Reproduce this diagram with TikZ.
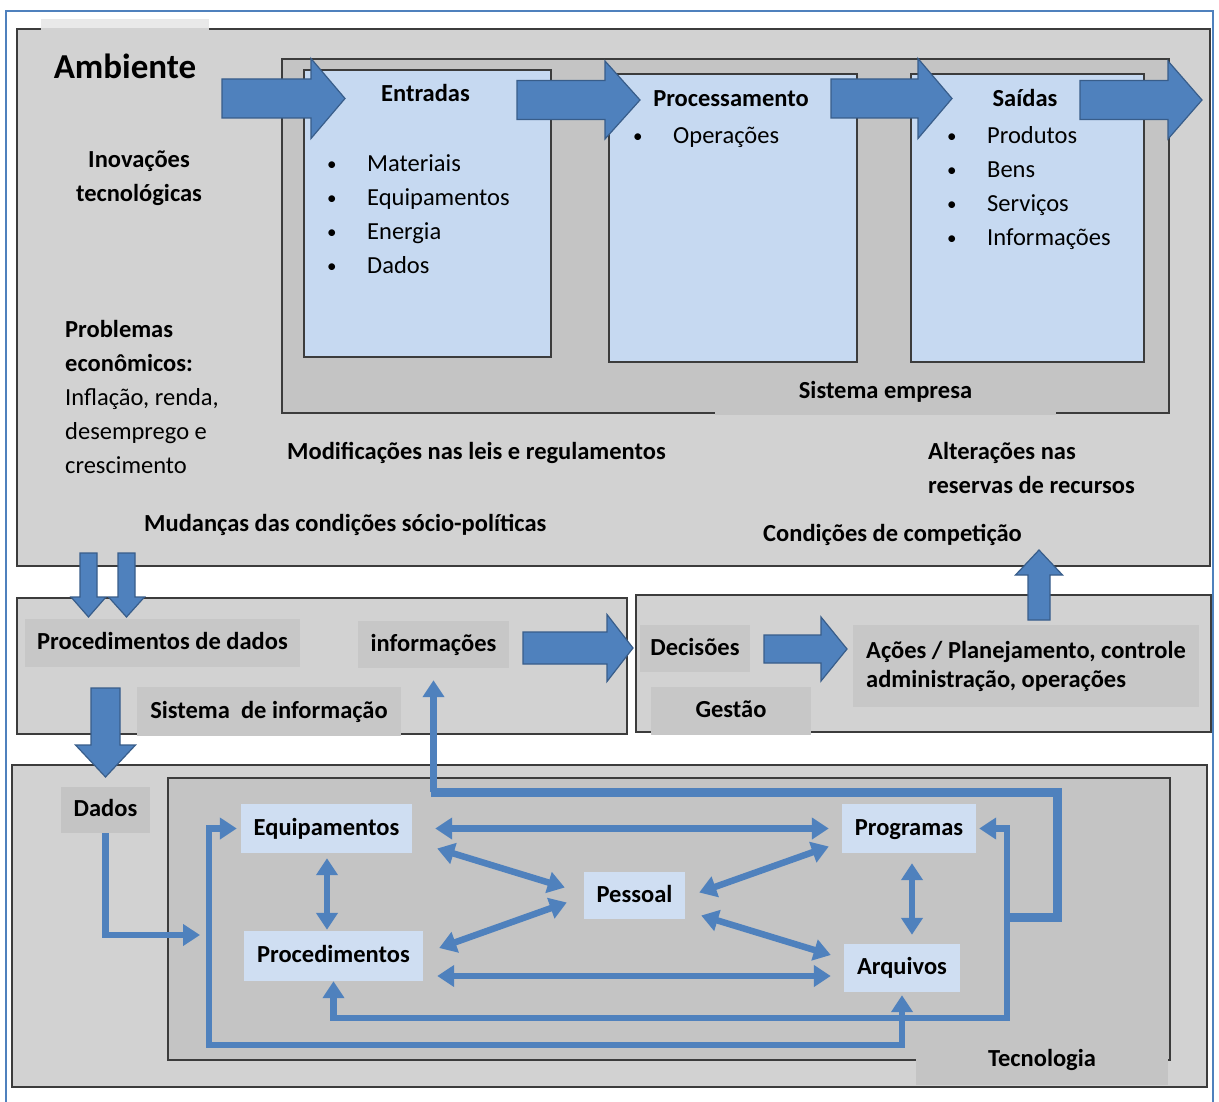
\documentclass[tikz,border=0pt]{standalone}
\usepackage{fontspec}
\setmainfont{Carlito}
\usetikzlibrary{arrows.meta,calc}
\definecolor{bl}{HTML}{4F81BD}
\definecolor{bld}{HTML}{385D8A}
\definecolor{gA}{HTML}{D2D2D2}
\definecolor{gAt}{HTML}{E9E9E9}
\definecolor{gB}{HTML}{C4C4C4}
\definecolor{gL}{HTML}{C7C7C7}
\definecolor{lb}{HTML}{C6D9F1}
\definecolor{lbb}{HTML}{CFDEF2}
\definecolor{bd}{HTML}{3C3C3C}
\newcommand\rblk[6]{\filldraw[blk] (#1,{#4-#5}) -- (#2,{#4-#5}) -- (#2,{#4-#6}) -- (#3,#4) -- (#2,{#4+#6}) -- (#2,{#4+#5}) -- (#1,{#4+#5}) -- cycle;}
\newcommand\vblk[6]{\filldraw[blk] ({#1-#5},#2) -- ({#1+#5},#2) -- ({#1+#5},#3) -- ({#1+#6},#3) -- (#1,#4) -- ({#1-#6},#3) -- ({#1-#5},#3) -- cycle;}
\newcommand\bul{\makebox[40pt][l]{\raisebox{1pt}{\fontsize{19}{34}\selectfont •}}}
\begin{document}
\begin{tikzpicture}[x=1pt,y=-1pt, >={Triangle[length=17pt,width=21pt]},
  box/.style={draw=bd, line width=1.3pt},
  blk/.style={fill=bl, draw=bld, line width=1.2pt, line join=miter},
  txt/.style={inner sep=0pt, font=\fontsize{24.5}{34}\selectfont},
  txtb/.style={inner sep=0pt, font=\fontsize{24.5}{34}\selectfont\bfseries},
  lbl/.style={txtb, text height=17pt, text depth=4pt},
  tnode/.style={lbl, fill=lbb},
  conn/.style={draw=bl, line width=6.5pt},
  ]
\clip (0,0) rectangle (1219,1102);
\fill[white] (0,0) rectangle (1219,1102);
\draw[bl, line width=2pt] (6,11) rectangle (1213,1120);

% ---------- Ambiente ----------
\fill[gAt] (41,19) rectangle (209,30);
\draw[box, fill=gA] (17,29) rectangle (1210,566);
\node[txtb, font=\fontsize{35}{40}\selectfont\bfseries, fill=gA, minimum width=168pt, minimum height=76pt] (amb) at (125,66) {Ambiente};

\draw[box, fill=gB] (282,59) rectangle (1169,413);
\node[lbl, fill=gB, minimum width=341pt, minimum height=46pt] (se) at (885.5,392) {Sistema empresa};

\draw[box, fill=lb] (304,70) rectangle (551,357);
\draw[box, fill=lb] (609,74) rectangle (857,362);
\draw[box, fill=lb] (911,74) rectangle (1144,362);

\rblk{222}{311}{345}{98.5}{19.5}{40}
\rblk{517}{605}{640}{100}{19.5}{39}
\rblk{831}{918}{952}{98.5}{19.5}{40}
\rblk{1080}{1168}{1202}{100}{19.5}{39}

\node[txtb, anchor=base] (ent) at (425.5,102) {Entradas};
\node[txt, anchor=north west, align=left] (entl) at (327,147.2) {\strut\bul Materiais\\\bul Equipamentos\\\bul Energia\\\bul Dados};
\node[txtb, anchor=base] (proc) at (731,107) {Processamento};
\node[txt, anchor=base west] (procl) at (633,144) {\bul Operações};
\node[txtb, anchor=base] (sai) at (1025,107) {Saídas};
\node[txt, anchor=north west, align=left] (sail) at (947,119.2) {\strut\bul Produtos\\\bul Bens\\\bul Serviços\\\bul Informações};

\node[txtb, anchor=north, align=center] (inov) at (139,143.2) {\strut Inovações\\tecnológicas};
\node[txt, anchor=north west, align=left] (prob) at (65,313.2) {\strut\textbf{Problemas}\\\textbf{econômicos:}\\Inflação, renda,\\desemprego e\\crescimento};
\node[txtb, anchor=base west] (modif) at (287,459) {Modificações nas leis e regulamentos};
\node[txtb, anchor=base west] (mud) at (144,531) {Mudanças das condições sócio-políticas};
\node[txtb, anchor=north west, align=left] (alt) at (928,435.2) {\strut Alterações nas\\reservas de recursos};
\node[txtb, anchor=base west] (cond) at (763,541) {Condições de competição};

% ---------- Sistema de informação / Gestão ----------
\draw[box, fill=gA] (17,598) rectangle (627,734);
\draw[box, fill=gA] (636,595) rectangle (1211,732);
\node[lbl, fill=gL, minimum width=275pt, minimum height=48pt] (pdd) at (162.5,643) {Procedimentos de dados};
\node[lbl, fill=gL, minimum width=151pt, minimum height=47pt] (info) at (433.5,644.5) {informações};
\node[lbl, fill=gL, minimum width=264pt, minimum height=49pt] (sinf) at (269,711.5) {Sistema\ \ de informação};
\node[lbl, fill=gL, minimum width=110pt, minimum height=47pt] (dec) at (695,648.5) {Decisões};
\node[lbl, fill=gL, minimum width=160pt, minimum height=48pt] (gest) at (731,711) {Gestão};
\node[txtb, fill=gL, minimum width=346pt, minimum height=82pt, align=left, font=\fontsize{24.5}{29}\selectfont\bfseries] (acoes) at (1026,666) {Ações / Planejamento, controle\\administração, operações};

% ---------- Tecnologia ----------
\draw[box, fill=gA] (12,765) rectangle (1207,1087);
\draw[box, fill=gB] (168,778) rectangle (1170,1060);
\node[lbl, fill=gB, minimum width=252pt, minimum height=50pt] (tec) at (1042,1060) {Tecnologia};
\node[lbl, fill=gB, minimum width=89pt, minimum height=46pt] (dados) at (105.5,810) {Dados};

\node[tnode, minimum width=171pt, minimum height=49pt] (eq) at (326.5,828.5) {Equipamentos};
\node[tnode, minimum width=179pt, minimum height=50pt] (pr) at (333.5,956) {Procedimentos};
\node[tnode, minimum width=101pt, minimum height=47pt] (pe) at (634.5,895.5) {Pessoal};
\node[tnode, minimum width=134pt, minimum height=49pt] (pg) at (909,828.5) {Programas};
\node[tnode, minimum width=116pt, minimum height=48pt] (ar) at (902,968) {Arquivos};

% block arrows between sections
\vblk{88.5}{553}{597}{617}{8.5}{17.5}
\vblk{126.5}{553}{597}{617}{8.5}{18}
\vblk{105.5}{688}{745}{777}{14.5}{30}
\vblk{1039}{620}{575}{550}{11}{23.5}
\rblk{523}{607}{633}{648}{16}{33.5}
\rblk{764}{821}{847}{649}{14}{32}

% connectors
\coordinate (jA) at (1007,1018);
\coordinate (jB) at (209,1045);
\coordinate (jC) at (1007,917);
\coordinate (lp1) at (1057,917);
\coordinate (lp2) at (1057,792);
\coordinate (lp3) at (433.5,792);
\coordinate (dIn) at (200,935);

\draw[conn,<->] ([xshift=23pt]eq.east) -- ([xshift=-13pt]pg.west);
\draw[conn,<->] ($(pr.east)+(14,20)$) -- ($(ar.west)+(-13,8)$);
\draw[conn,<->] ($(eq.east)+(25,20)$) -- ($(pe.west)+(-19,-8)$);
\draw[conn,<->] ($(pr.east)+(16,-8)$) -- ($(pe.west)+(-17,7)$);
\draw[conn,<->] ($(pe.east)+(14,-3)$) -- ($(pg.west)+(-13,18)$);
\draw[conn,<->] ($(pe.east)+(16,20)$) -- ($(ar.west)+(-13,-13)$);
\draw[conn,<->] ($(eq.south)+(0.5,5)$) -- ($(pr.north)+(-6.5,-1)$);
\draw[conn,<->] ($(pg.south)+(3,10)$) -- ($(ar.north)+(10,-9)$);
\draw[conn,<->] ([xshift=3pt]pg.east) -| (jA) -| (pr.south);
\draw[conn,<->] ([yshift=-3pt]ar.south) |- (jB) |- ([xshift=-4pt]eq.west);
\draw[conn, line width=9pt] (jC) -- (lp1) -- (lp2) -- ([xshift=-3pt]lp3);
\draw[conn,->] (lp3) -- ([yshift=-12pt]info.south);
\draw[conn,->] (dados.south) |- (dIn);
\end{tikzpicture}
\end{document}
